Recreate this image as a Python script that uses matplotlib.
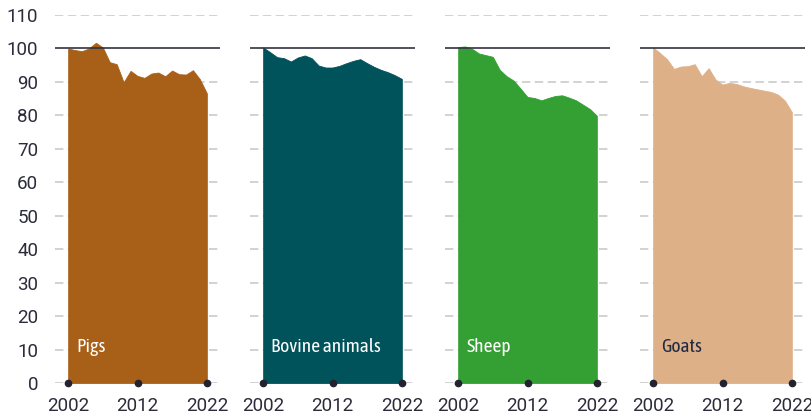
import matplotlib
matplotlib.use("Agg")
import matplotlib.pyplot as plt

years = list(range(2002, 2023))
pigs = [100.0, 99.5, 99.2, 100.0, 101.7, 100.3, 95.9, 95.3, 89.9, 93.3, 91.8,
        91.2, 92.5, 92.8, 91.7, 93.4, 92.3, 92.2, 93.5, 90.8, 86.6]
bovine = [100.3, 98.9, 97.4, 97.1, 96.1, 97.3, 97.9, 97.1, 94.9, 94.3, 94.3,
          94.8, 95.6, 96.3, 96.8, 95.6, 94.5, 93.6, 92.9, 92.0, 90.9]
sheep = [100.4, 100.6, 99.9, 98.5, 98.0, 97.5, 93.6, 91.7, 90.4, 88.0, 85.5,
         85.2, 84.5, 85.2, 85.8, 86.0, 85.3, 84.5, 83.2, 81.9, 79.9]
goats = [100.3, 98.6, 96.8, 93.9, 94.6, 94.7, 95.3, 91.7, 94.1, 90.7, 89.2,
         89.7, 89.4, 88.7, 88.2, 87.8, 87.4, 87.0, 86.2, 84.4, 81.0]

series = [("Pigs", pigs, "#A86018", "white"),
          ("Bovine animals", bovine, "#00525B", "white"),
          ("Sheep", sheep, "#34A033", "white"),
          ("Goats", goats, "#DEB088", "#1F2A44")]
yticks = list(range(0, 111, 10))
xticks = [2002, 2012, 2022]

plt.rcParams['font.family'] = ['Roboto', 'DejaVu Sans']
label_family = ['Asap Condensed', 'Roboto', 'DejaVu Sans']
text_color = "#2B2B3A"

fig = plt.figure(figsize=(8.12, 4.18), dpi=100)
W, H = 812, 418
left0, width, step = 55, 165, 195
bottom_px, top_px = 383, 15

for i, (name, vals, col, tcol) in enumerate(series):
    l = left0 + i * step
    ax = fig.add_axes([l / W, (H - bottom_px) / H, width / W, (bottom_px - top_px) / H])
    ax.set_xlim(2000.1, 2023.9)
    ax.set_ylim(0, 110)
    for yv in yticks:
        if yv == 100:
            continue
        ax.axhline(yv, color="#D2D2D2", lw=1.4, linestyle=(0, (4.3, 2.3)), zorder=0)
    ax.fill_between(years, 0, vals, color=col, lw=0.6, edgecolor=col, zorder=2)
    ax.axhline(100, color="#33333F", lw=1.2, zorder=3)
    ax.plot(xticks, [0] * len(xticks), "o", color="#222230", ms=4.5,
            clip_on=False, zorder=5)
    ax.text(2003.2, 10.7, name, color=tcol, fontsize=14, family=label_family,
            ha="left", va="center", zorder=6)
    for s in ax.spines.values():
        s.set_visible(False)
    ax.set_xticks(xticks)
    ax.set_xticklabels([str(x) for x in xticks])
    ax.tick_params(axis="x", length=0, pad=10, labelsize=13.5, colors=text_color)
    if i == 0:
        ax.set_yticks(yticks)
        ax.tick_params(axis="y", length=0, pad=12, labelsize=13.5, colors=text_color)
    else:
        ax.set_yticks([])
    ax.patch.set_alpha(0)

fig.savefig("out.png", dpi=100)
